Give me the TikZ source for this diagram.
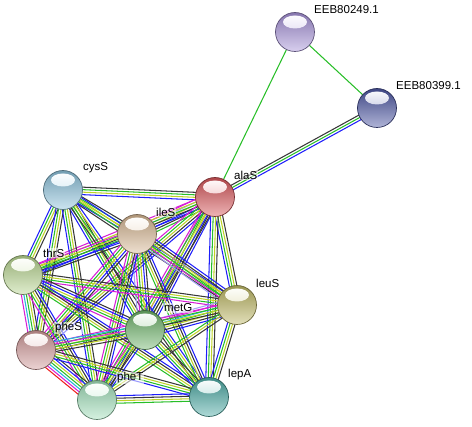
\documentclass[tikz,border=0pt]{standalone}
\usepackage{fontspec}
\setmainfont{Liberation Sans}
\usetikzlibrary{calc, backgrounds}
% evidence channel colours
\definecolor{evGreen}{RGB}{40,190,40}
\definecolor{evLime}{RGB}{190,210,40}
\definecolor{evBlue}{RGB}{30,30,250}
\definecolor{evBlack}{RGB}{55,55,55}
\definecolor{evMagenta}{RGB}{215,30,215}
\definecolor{evCyan}{RGB}{40,180,220}
\definecolor{evRed}{RGB}{240,30,30}
\definecolor{evLav}{RGB}{165,160,245}
% protein colours
\definecolor{protPurple}{RGB}{168,148,218}
\definecolor{protNavy}{RGB}{78,88,165}
\definecolor{protRed}{RGB}{218,88,92}
\definecolor{protSky}{RGB}{142,196,222}
\definecolor{protTan}{RGB}{218,186,150}
\definecolor{protLime}{RGB}{186,216,146}
\definecolor{protOlive}{RGB}{192,186,102}
\definecolor{protGreen}{RGB}{112,182,108}
\definecolor{protPink}{RGB}{212,156,156}
\definecolor{protMint}{RGB}{162,226,188}
\definecolor{protTeal}{RGB}{76,172,166}

\newcommand{\evidence}[3]{%
  \foreach \c [count=\i] in {#3} {\xdef\nstrands{\i}}%
  \foreach \c [count=\i] in {#3} {%
    \pgfmathsetmacro{\off}{(\i-(\nstrands+1)/2)*2.5}%
    \draw[strand, \c] ($(#1.center)!\off pt!90:(#2.center)$) -- ($(#2.center)!\off pt!-90:(#1.center)$);
  }%
}

\begin{document}
\begin{tikzpicture}[x=1pt, y=-1pt,
    ball/.style={circle, minimum size=39pt, inner sep=0pt, draw=#1!55!black, line width=0.7pt,
      top color=#1!80!black, bottom color=#1!45!white,
      path picture={\shade[top color=white, bottom color=#1!55!white]
        ($(path picture bounding box.center)+(0,-10)$) ellipse (12 and 6.5);}},
    lbl/.style={anchor=west, font=\fontsize{11.5}{13}\selectfont, inner sep=1pt,
      fill=white, fill opacity=0.55, text opacity=1},
    strand/.style={line width=1.05pt}
  ]
  \useasboundingbox (0,0) rectangle (472,427);

  \node[ball=protPurple] (eeb249) at (295,32) {};
  \node[ball=protNavy] (eeb399) at (377,108) {};
  \node[ball=protRed] (alaS) at (215,197) {};
  \node[ball=protSky] (cysS) at (63,190) {};
  \node[ball=protTan] (ileS) at (137,234) {};
  \node[ball=protLime] (thrS) at (23,275) {};
  \node[ball=protOlive] (leuS) at (237,305) {};
  \node[ball=protGreen] (metG) at (145,330) {};
  \node[ball=protPink] (pheS) at (36,350) {};
  \node[ball=protMint] (pheT) at (97,400) {};
  \node[ball=protTeal] (lepA) at (209,397) {};

  \node[lbl] (eeb249-lbl) at ($(eeb249)+(18,-22)$) {EEB80249.1};
  \node[lbl] (eeb399-lbl) at ($(eeb399)+(18,-22)$) {EEB80399.1};
  \node[lbl] (alaS-lbl) at ($(alaS)+(18,-22)$) {alaS};
  \node[lbl] (cysS-lbl) at ($(cysS)+(19,-22)$) {cysS};
  \node[lbl] (ileS-lbl) at ($(ileS)+(18,-22)$) {ileS};
  \node[lbl] (thrS-lbl) at ($(thrS)+(19,-22)$) {thrS};
  \node[lbl] (leuS-lbl) at ($(leuS)+(18,-22)$) {leuS};
  \node[lbl] (metG-lbl) at ($(metG)+(18,-22)$) {metG};
  \node[lbl] (pheS-lbl) at ($(pheS)+(18,-22)$) {pheS};
  \node[lbl] (pheT-lbl) at ($(pheT)+(19,-22)$) {pheT};
  \node[lbl] (lepA-lbl) at ($(lepA)+(18,-22)$) {lepA};

  \begin{scope}[on background layer]
    \evidence{eeb249}{eeb399}{evGreen}
    \evidence{alaS}{eeb249}{evGreen}
    \evidence{alaS}{eeb399}{evBlue,evGreen,evBlack}
    % alaS
    \evidence{alaS}{cysS}{evBlack,evGreen,evLime,evBlue}
    \evidence{alaS}{ileS}{evMagenta,evLav,evLime,evBlue,evBlack,evGreen}
    \evidence{alaS}{thrS}{evMagenta,evLime,evGreen,evBlack,evBlue}
    \evidence{alaS}{leuS}{evBlue,evGreen,evLime,evBlack}
    \evidence{alaS}{metG}{evMagenta,evGreen,evLime,evBlack,evBlue}
    \evidence{alaS}{pheS}{evMagenta,evGreen,evLime,evBlack,evBlue}
    \evidence{alaS}{pheT}{evMagenta,evGreen,evLime,evBlue,evBlack}
    \evidence{alaS}{lepA}{evBlue,evGreen,evLime,evBlack}
    % cysS
    \evidence{cysS}{ileS}{evBlue,evLime,evGreen,evBlack}
    \evidence{cysS}{thrS}{evBlue,evGreen,evLime,evBlack}
    \evidence{cysS}{leuS}{evBlack,evGreen,evLime,evBlue}
    \evidence{cysS}{metG}{evBlue,evGreen,evLime,evBlack}
    \evidence{cysS}{pheS}{evBlue,evGreen,evLime,evBlack}
    \evidence{cysS}{pheT}{evBlue,evGreen,evLime,evBlack}
    \evidence{cysS}{lepA}{evBlack,evGreen,evLime,evBlue}
    % ileS
    \evidence{ileS}{thrS}{evMagenta,evLime,evGreen,evBlue,evBlack}
    \evidence{ileS}{leuS}{evLav,evMagenta,evGreen,evLime,evBlack,evBlue}
    \evidence{ileS}{metG}{evLav,evMagenta,evGreen,evLime,evBlue,evBlack}
    \evidence{ileS}{pheS}{evMagenta,evGreen,evLime,evBlue,evBlack}
    \evidence{ileS}{pheT}{evMagenta,evGreen,evLime,evBlack,evBlue}
    \evidence{ileS}{lepA}{evGreen,evLime,evBlack,evBlue}
    % thrS
    \evidence{thrS}{leuS}{evMagenta,evGreen,evLime,evBlack}
    \evidence{thrS}{metG}{evMagenta,evGreen,evLime,evBlue,evBlack}
    \evidence{thrS}{pheS}{evMagenta,evCyan,evGreen,evLime,evBlack}
    \evidence{thrS}{pheT}{evMagenta,evGreen,evLime,evBlack,evBlue}
    \evidence{thrS}{lepA}{evGreen,evLime,evBlack,evBlue}
    % leuS
    \evidence{leuS}{metG}{evLav,evMagenta,evCyan,evGreen,evLime,evBlack,evBlue}
    \evidence{leuS}{pheS}{evMagenta,evGreen,evLime,evBlack}
    \evidence{leuS}{pheT}{evGreen,evLime,evBlack}
    \evidence{leuS}{lepA}{evBlue,evGreen,evLime,evBlack}
    % metG
    \evidence{metG}{pheS}{evCyan,evMagenta,evGreen,evLime,evBlack}
    \evidence{metG}{pheT}{evMagenta,evGreen,evLime,evBlack,evBlue}
    \evidence{metG}{lepA}{evBlue,evGreen,evLime,evBlack}
    % pheS, pheT
    \evidence{pheS}{pheT}{evRed,evMagenta,evCyan,evGreen,evLime,evBlue,evBlack}
    \evidence{pheS}{lepA}{evBlue,evGreen,evLime,evBlack}
    \evidence{pheT}{lepA}{evGreen,evLime,evBlack,evBlue}
  \end{scope}
\end{tikzpicture}
\end{document}
